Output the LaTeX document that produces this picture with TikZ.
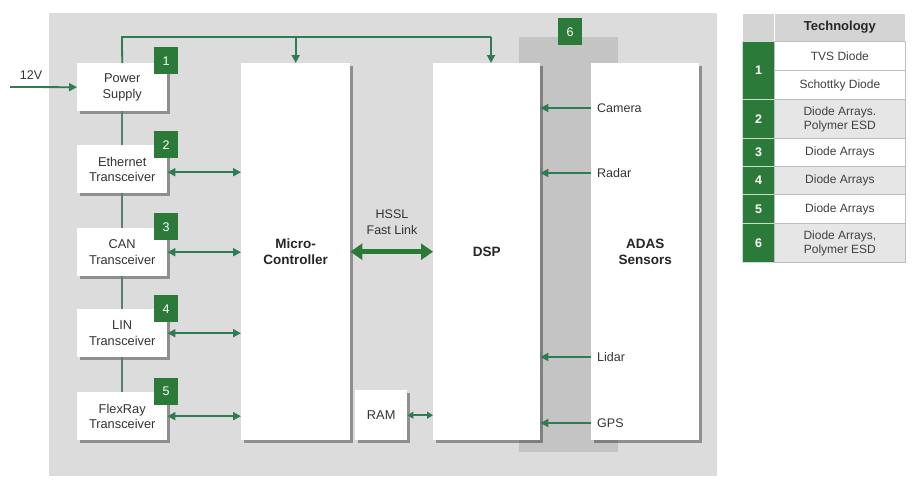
\documentclass[tikz,border=0pt]{standalone}
\usepackage{fontspec}
\setmainfont{Liberation Sans}
\usetikzlibrary{arrows.meta,shadows}
\definecolor{panel}{HTML}{DCDCDC}
\definecolor{band}{HTML}{C4C4C4}
\definecolor{badge}{HTML}{2C7A3A}
\definecolor{wire}{HTML}{2F7B52}
\definecolor{vline}{HTML}{5E7E6C}
\definecolor{txt}{HTML}{333333}
\definecolor{rowgray}{HTML}{E6E6E6}
\definecolor{hdr}{HTML}{D4D4D4}
\definecolor{cellline}{HTML}{BDBDBD}
\begin{document}
\begin{tikzpicture}[x=1pt,y=-1pt,
  box/.style={fill=white, align=center, anchor=north west, inner sep=0pt,
    font=\fontsize{12.8}{15.5}\selectfont, text=txt,
    drop shadow={shadow xshift=2.5pt, shadow yshift=-2.5pt, fill=black, opacity=0.35}},
  bigbox/.style={box, font=\fontsize{13.5}{16}\selectfont\bfseries, text=black!85},
  badgebox/.style={fill=badge, anchor=north west, inner sep=0pt, minimum width=24pt,
    minimum height=27pt, text=white, font=\fontsize{12.5}{14}\selectfont},
  lbl/.style={font=\fontsize{12.5}{14}\selectfont, text=txt},
  arr/.style={draw=wire, line width=1.8pt, -{Triangle[length=8pt,width=8pt]}},
  darr/.style={draw=wire, line width=1.8pt, {Triangle[length=8pt,width=8pt]}-{Triangle[length=8pt,width=8pt]}},
  smalldarr/.style={draw=wire, line width=1.8pt, {Triangle[length=6pt,width=7pt]}-{Triangle[length=6pt,width=7pt]}},
  hssl/.style={draw=badge, line width=4.5pt, {Triangle[length=12pt,width=16pt]}-{Triangle[length=12pt,width=16pt]}},
  wireline/.style={draw=wire, line width=1.8pt},
  linkline/.style={draw=vline, line width=1.8pt},
  num/.style={fill=badge, draw=white!75!badge, line width=1pt, anchor=north west, inner sep=0pt,
    minimum width=32pt, text=white, font=\fontsize{12.5}{14}\selectfont\bfseries},
  cell/.style={draw=cellline, line width=0.8pt, anchor=north west, inner sep=0pt, align=center,
    minimum width=131pt, text=black!75, font=\fontsize{12}{14}\selectfont},
  hcell/.style={fill=hdr, draw=white, line width=0.8pt, anchor=north west, inner sep=0pt,
    minimum height=28pt}
]
\useasboundingbox (0,0) rectangle (913,485);
% panel and sensor band
\fill[panel] (49,13) rectangle (717,476);
\fill[band] (519,37) rectangle (618,452);

% interface boxes
\node[box, minimum width=90pt, minimum height=48pt] (ps) at (77,63) {Power\\Supply};
\node[box, minimum width=90pt, minimum height=48pt] (eth) at (77,145) {Ethernet\\Transceiver};
\node[box, minimum width=90pt, minimum height=48pt] (can) at (77,228) {CAN\\Transceiver};
\node[box, minimum width=90pt, minimum height=48pt] (lin) at (77,309) {LIN\\Transceiver};
\node[box, minimum width=90pt, minimum height=48pt] (flex) at (77,392) {FlexRay\\Transceiver};

% main blocks
\node[bigbox, minimum width=109pt, minimum height=377pt] (mcu) at (241,63) {Micro-\\Controller};
\node[bigbox, minimum width=107pt, minimum height=377pt] (dsp) at (433,63) {DSP};
\node[bigbox, minimum width=108pt, minimum height=377pt] (adas) at (591,63) {ADAS\\Sensors};
\node[box, minimum width=52pt, minimum height=50pt] (ram) at (355,390) {RAM};

% badges
\node[badgebox] (b1) at (154,47) {1};
\node[badgebox] (b2) at (154,131) {2};
\node[badgebox] (b3) at (154,213) {3};
\node[badgebox] (b4) at (154,295) {4};
\node[badgebox] (b5) at (154,378) {5};
\node[badgebox] (b6) at (558,18) {6};

% 12V input
\coordinate (in12) at (10,87);
\node[lbl] (v12) at (31,75) {12V};
\draw[arr] (in12) -- (ps.west);

% power bus
\coordinate (busL) at (122,37);
\coordinate (busR) at (491,37);
\draw[wireline] (ps.north) -- (busL) -- (busR);
\draw[arr] (busR) -- (busR |- dsp.north);
\draw[arr] (mcu.north |- busL) -- (mcu.north);

% links between transceivers
\draw[linkline] (ps.south) -- (eth.north);
\draw[linkline] (eth.south) -- (can.north);
\draw[linkline] (can.south) -- (lin.north);
\draw[linkline] (lin.south) -- (flex.north);

% transceiver <-> MCU
\draw[darr] ([yshift=-3pt]eth.east) -- ([yshift=-3pt]eth.east -| mcu.west);
\draw[darr] (can.east) -- (can.east -| mcu.west);
\draw[darr] (lin.east) -- (lin.east -| mcu.west);
\draw[darr] (flex.east) -- (flex.east -| mcu.west);

% HSSL
\draw[hssl] (mcu.east) -- (dsp.west);
\node[lbl, align=center, font=\fontsize{12.5}{15.5}\selectfont] (hsslt) at (392,222) {HSSL\\Fast Link};

% RAM <-> DSP
\draw[smalldarr] (ram.east) -- (ram.east -| dsp.west);

% sensors
\node[lbl, anchor=west, inner xsep=6pt] (cam) at (591,108) {Camera};
\node[lbl, anchor=west, inner xsep=6pt] (rad) at (591,173) {Radar};
\node[lbl, anchor=west, inner xsep=6pt] (lid) at (591,357) {Lidar};
\node[lbl, anchor=west, inner xsep=6pt] (gps) at (591,423) {GPS};
\draw[arr] (cam.west) -- (cam.west -| dsp.east);
\draw[arr] (rad.west) -- (rad.west -| dsp.east);
\draw[arr] (lid.west) -- (lid.west -| dsp.east);
\draw[arr] (gps.west) -- (gps.west -| dsp.east);

% table
\node[hcell, minimum width=32pt] (h0) at (742,13) {};
\node[hcell, minimum width=131pt, font=\fontsize{13}{15}\selectfont\bfseries, text=black!85] (h1) at (774,13) {Technology};
\node[num, minimum height=58pt] (n1) at (742,41) {1};
\node[num, minimum height=39pt] (n2) at (742,99) {2};
\node[num, minimum height=28pt] (n3) at (742,138) {3};
\node[num, minimum height=28pt] (n4) at (742,166) {4};
\node[num, minimum height=29pt] (n5) at (742,194) {5};
\node[num, minimum height=39pt] (n6) at (742,223) {6};
\node[cell, fill=white, minimum height=29pt] (t1a) at (774,41) {TVS Diode};
\node[cell, fill=white, minimum height=29pt] (t1b) at (774,70) {Schottky Diode};
\node[cell, fill=rowgray, minimum height=39pt] (t2) at (774,99) {Diode Arrays.\\Polymer ESD};
\node[cell, fill=white, minimum height=28pt] (t3) at (774,138) {Diode Arrays};
\node[cell, fill=rowgray, minimum height=28pt] (t4) at (774,166) {Diode Arrays};
\node[cell, fill=white, minimum height=29pt] (t5) at (774,194) {Diode Arrays};
\node[cell, fill=rowgray, minimum height=39pt] (t6) at (774,223) {Diode Arrays,\\Polymer ESD};
\end{tikzpicture}
\end{document}
